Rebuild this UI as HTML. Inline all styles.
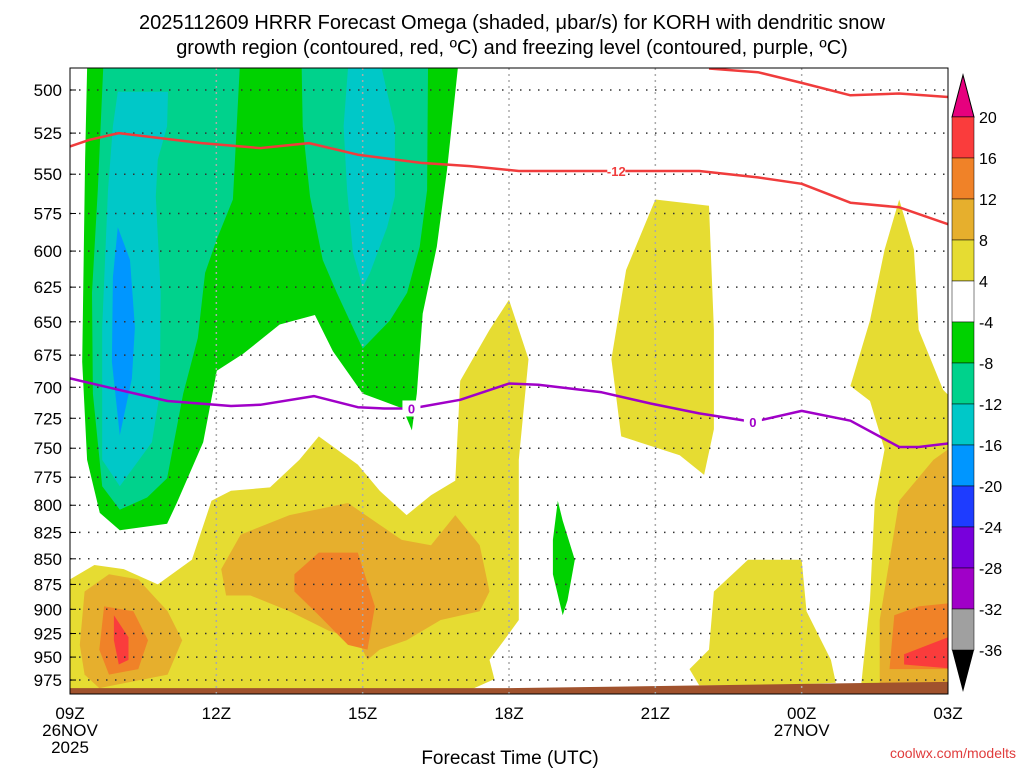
<!DOCTYPE html>
<html><head><meta charset="utf-8"><style>
html,body{margin:0;padding:0;background:#fff;}
svg{display:block;font-family:"Liberation Sans",sans-serif;}
</style></head><body>
<svg id="chart" width="1024" height="768" xmlns="http://www.w3.org/2000/svg">
<defs><clipPath id="plotclip"><rect x="70" y="68" width="878" height="626"/></clipPath></defs>
<g font-size="20" text-anchor="middle" fill="#000">
<text x="512" y="29">2025112609 HRRR Forecast Omega (shaded, μbar/s) for KORH with dendritic snow</text>
<text x="512" y="54">growth region (contoured, red, ºC) and freezing level (contoured, purple, ºC)</text>
</g>
<g id="fills" clip-path="url(#plotclip)"></g>
<g id="grid"></g>
<g id="lines" clip-path="url(#plotclip)"></g>
<rect x="70" y="68" width="878" height="626" fill="none" stroke="#000" stroke-width="1"/>
<g id="axes" font-size="17" fill="#000"></g>
<g id="cbar"></g>
<text x="510" y="764" font-size="19" text-anchor="middle">Forecast Time (UTC)</text>
<text x="1016" y="758" font-size="14" text-anchor="end" fill="#e03c3c">coolwx.com/modelts</text>
</svg>
<script>
const pressureTicks=[500,525,550,575,600,625,650,675,700,725,750,775,800,825,850,875,900,925,950,975];
const timeTicks=[0,3,6,9,12,15,18];
const timeLabels=["09Z","12Z","15Z","18Z","21Z","00Z","03Z"];
const levelValues=[20,16,12,8,4,-4,-8,-12,-16,-20,-24,-28,-32,-36];
const levelColors=["#fa3c3c","#f08228","#e6af2d","#e6dc32","#ffffff","#00d200","#00d28c","#00c8c8","#0096ff","#1e3cff","#7800dc","#a000c8","#a0a0a0"];
const regionLevels=[5,6,6,7,7,8,3,3,3,3,2,2,2,1,1,1,0,0,5];
const regionShapes=[
[0.35,488,7.95,488,7.73,547,7.52,597,7.23,644,7.11,705,7.01,735,6.82,717,6.00,705,5.39,672,5.02,645,4.30,652,3.55,674,3.01,687,2.73,745,2.19,798,1.99,817,1.02,823,0.61,807,0.35,760,0.25,680,0.31,541],
[0.68,488,3.48,488,3.34,566,3.01,592,2.77,615,2.62,662,2.32,705,1.99,776,1.58,793,1.02,804,0.66,783,0.47,705,0.45,629,0.57,560],
[4.75,488,7.34,488,7.32,560,7.17,597,6.91,629,6.56,649,6.00,670,5.47,629,5.18,606,4.92,564,4.77,521],
[0.98,501,2.01,501,1.99,521,1.80,541,1.76,564,1.86,629,1.84,705,1.68,745,1.02,783,0.66,760,0.66,654,0.78,560,0.88,521],
[5.70,488,6.39,488,6.66,521,6.66,564,6.50,584,6.15,615,6.00,625,5.80,601,5.68,560,5.61,521],
[0.98,584,1.23,606,1.33,654,1.27,693,1.02,739,0.86,680,0.88,618],
[0,991,0,870,0.5,856,1.1,860,1.8,875,2.5,851,2.9,796,3.3,787,4.1,784,4.7,760,5.1,740,5.9,764,6.35,787,6.9,809,7.4,791,7.9,778,8.0,695,8.6,656,9.0,634,9.4,678,9.2,760,9.2,911,8.9,932,8.6,953,8.7,974,8.0,991],
[11.4,613,12.0,566,13.1,570,13.2,656,13.2,734,13.0,773,12.5,756,11.3,740,11.1,678],
[13.2,882,13.9,851,15.0,851,15.1,902,15.6,953,15.7,978,14.5,981,12.9,981,12.7,963,13.1,942],
[17.0,566,17.3,599,17.4,656,17.9,702,18,706,18,991,16.2,991,16.4,891,16.5,796,16.7,751,16.4,711,16.0,699,16.4,649,16.7,599],
[0.3,882,0.8,865,1.4,870,2.0,902,2.3,932,2.0,969,0.6,984,0.3,969,0.2,937],
[3.1,860,3.5,827,4.5,809,5.7,798,6.8,832,7.4,837,7.9,809,8.4,837,8.6,882,8.4,902,7.6,911,6.9,932,6.35,942,6.1,953,5.9,932,5.3,922,4.5,902,3.7,886,3.2,886],
[17.0,796,17.7,760,18,751,18,985,16.6,985,16.6,911],
[0.7,897,1.3,902,1.6,932,1.4,963,0.8,969,0.6,942],
[4.6,865,5.1,844,5.9,844,6.25,897,6.1,942,5.7,937,5.1,906,4.6,882],
[16.9,906,17.4,897,18,894,18,963,16.8,963],
[0.9,906,1.2,929,1.2,953,1.0,958,0.9,932],
[17.1,947,18,929,18,962,17.1,958],
[10.0,796,10.1,814,10.35,851,10.2,891,10.1,906,9.9,865,9.9,832]
];
const dgzHours=[0,0.4,1.0,2.7,3.9,4.9,5.9,7.2,8.2,9.2,10.9,11.9,12.9,14.1,15.0,16.0,17.0,18];
const dgzPress=[533,529,525,531,534,531,538,543,545,548,548,548,548,552,556,568,571,582];
const dgzTopHours=[13.1,14.1,15.0,16.0,17.0,18];
const dgzTopPress=[488,490,496,503,502,504];
const frzHours=[0,1.0,2.0,3.3,3.9,5.0,5.9,6.45,7.0,8.0,9.0,9.6,10.9,11.9,12.9,14.0,15.0,16.0,17.0,17.4,18];
const frzPress=[693,702,711,715,714,707,716,717,717,710,697,698,704,713,721,728,719,727,749,749,746];
const groundHours=[0,9,18];
const groundPress=[984,984,977];

const NS="http://www.w3.org/2000/svg";
const X0=70,X1=948,YTOP=68,YBOT=694;
const xS=h=>X0+h*(X1-X0)/18;
const yS=p=>90+Math.log(p/500)*883.5;
function mk(tag,attrs,parent){const e=document.createElementNS(NS,tag);for(const k in attrs)e.setAttribute(k,attrs[k]);parent.appendChild(e);return e;}
const fillsG=document.getElementById('fills');
regionShapes.forEach((s,i)=>{
  const pts=[];for(let j=0;j<s.length;j+=2)pts.push(xS(s[j]).toFixed(1)+','+yS(s[j+1]).toFixed(1));
  const el=mk('polygon',{points:pts.join(' '),fill:levelColors[regionLevels[i]]},fillsG);
  
  
});
{const pts=groundHours.map((h,i)=>xS(h)+','+yS(groundPress[i]));pts.push(X1+','+YBOT,X0+','+YBOT);
const g=mk('polygon',{points:pts.join(' '),fill:'#a0522d'},fillsG);

}
const gridG=document.getElementById('grid');
pressureTicks.forEach(p=>{const l=mk('line',{x1:X0,x2:X1,y1:yS(p),y2:yS(p),stroke:'#333','stroke-width':1.5,'stroke-dasharray':'1.5 7.5'},gridG);

});
timeTicks.slice(1,-1).forEach(h=>{const l=mk('line',{x1:xS(h),x2:xS(h),y1:YTOP,y2:YBOT,stroke:'#aaa','stroke-width':1.5,'stroke-dasharray':'2 4'},gridG);

});
const linesG=document.getElementById('lines');
function poly(hs,ps,color,name){const pts=hs.map((h,i)=>xS(h).toFixed(1)+','+yS(ps[i]).toFixed(1));
const l=mk('polyline',{points:pts.join(' '),fill:'none',stroke:color,'stroke-width':2.5,'stroke-linejoin':'round'},linesG);

}
poly(dgzHours,dgzPress,'#f03c3c','dgz-contour-minus12');
poly(dgzTopHours,dgzTopPress,'#f03c3c','dgz-contour-upper');
poly(frzHours,frzPress,'#a000c8','freezing-level-contour');
function lab(h,p,t,c,name){const r=mk('rect',{x:xS(h)-9,y:yS(p)-8,width:18,height:16,fill:'#fff'},linesG);


const tx=mk('text',{x:xS(h),y:yS(p)+5,'text-anchor':'middle','font-size':13,'font-weight':'bold',fill:c},linesG);tx.textContent=t;

}
lab(11.2,548,'-12','#f03c3c','label-minus12');
lab(7.0,717,'0','#a000c8','label-zero-1');
lab(14.0,728,'0','#a000c8','label-zero-2');
const axesG=document.getElementById('axes');
pressureTicks.forEach(p=>{const t=mk('text',{x:62,y:yS(p)+6,'text-anchor':'end'},axesG);t.textContent=p;


const tk=mk('line',{x1:X0,x2:X0+6,y1:yS(p),y2:yS(p),stroke:'#000'},axesG);

});
timeTicks.forEach((h,i)=>{const t=mk('text',{x:xS(h),y:719,'text-anchor':'middle'},axesG);t.textContent=timeLabels[i];

});
[[0,736,'26NOV'],[0,753,'2025'],[15,736,'27NOV']].forEach(d=>{const t=mk('text',{x:xS(d[0]),y:d[1],'text-anchor':'middle'},axesG);t.textContent=d[2];

});
const cbG=document.getElementById('cbar');
const cy=v=>{const i=levelValues.indexOf(v);return 117+i*41;};
const cbTop=mk('polygon',{points:'952,117 974,117 963,75',fill:'#e6007e',stroke:'#000'},cbG);


for(let i=0;i<levelColors.length;i++){const r=mk('rect',{x:952,y:117+i*41,width:22,height:41,fill:levelColors[i],stroke:'#000','stroke-width':0.5},cbG);

}
const cbBot=mk('polygon',{points:'952,650 974,650 963,692',fill:'#000'},cbG);


levelValues.forEach(v=>{const t=mk('text',{x:979,y:cy(v)+6,'font-size':16},cbG);t.textContent=v;

});
</script>
</body></html>
